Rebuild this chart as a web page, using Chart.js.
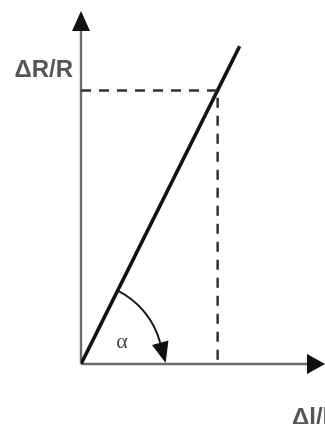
<!DOCTYPE html>
<html>
<head>
<meta charset="utf-8">
<script src="https://cdn.jsdelivr.net/npm/chart.js@4"></script>
<style>
  html, body { margin: 0; padding: 0; background: #fff; }
  #wrap { width: 325px; height: 424px; position: relative; }
</style>
</head>
<body>
<div id="wrap"><canvas id="c"></canvas></div>
<script>
// Relative strain (x) against relative resistance change (y)
const strainValues = [0, 6.5];
const resistanceValues = [0, 9.0];
// Reading point marked by the dashed guide lines
const readStrain = 5.6;
const readResistance = 7.75;
// Axis ranges
const strainRange = [0, 10];
const resistanceRange = [0, 10];
// Texts
const yAxisLabel = 'ΔR/R';
const xAxisLabel = 'Δl/l';
const angleLabel = 'α';

const linePoints = strainValues.map((x, i) => ({ x, y: resistanceValues[i] }));
const guidePoints = [
  { x: strainRange[0], y: readResistance },
  { x: readStrain, y: readResistance },
  { x: readStrain, y: resistanceRange[0] }
];

const AXIS_COLOR = '#6b6b6b';

function arrowHead(ctx, tipX, tipY, dirX, dirY, len, halfW, color) {
  const bx = tipX - dirX * len, by = tipY - dirY * len;
  const px = -dirY, py = dirX;
  ctx.beginPath();
  ctx.moveTo(tipX, tipY);
  ctx.lineTo(bx + px * halfW, by + py * halfW);
  ctx.lineTo(bx - px * halfW, by - py * halfW);
  ctx.closePath();
  ctx.fillStyle = color;
  ctx.fill();
}

// Axes with arrowheads, drawn under the data lines
const axesPlugin = {
  id: 'arrowAxes',
  beforeDatasetsDraw(chart) {
    const { ctx, chartArea, scales } = chart;
    const ox = scales.x.getPixelForValue(strainRange[0]);
    const oy = scales.y.getPixelForValue(resistanceRange[0]);
    ctx.save();
    ctx.strokeStyle = AXIS_COLOR;
    ctx.lineWidth = 2.4;
    ctx.beginPath();
    ctx.moveTo(ox, oy);
    ctx.lineTo(ox, chartArea.top + 12);
    ctx.moveTo(ox, oy);
    ctx.lineTo(chartArea.right - 12, oy);
    ctx.stroke();
    arrowHead(ctx, ox, chartArea.top, 0, -1, 20, 9, '#111');
    arrowHead(ctx, chartArea.right, oy, 1, 0, 18, 10, '#111');
    ctx.restore();
  }
};

// Angle arc, its arrow and the text labels
const labelsPlugin = {
  id: 'angleAndLabels',
  afterDatasetsDraw(chart) {
    const { ctx, scales } = chart;
    const ox = scales.x.getPixelForValue(strainRange[0]);
    const oy = scales.y.getPixelForValue(resistanceRange[0]);
    const ex = scales.x.getPixelForValue(strainValues[1]);
    const ey = scales.y.getPixelForValue(resistanceValues[1]);
    const a0 = Math.atan2(ey - oy, ex - ox);
    const a1 = -15 * Math.PI / 180;
    const r = 82;
    ctx.save();
    ctx.strokeStyle = '#1a1a1a';
    ctx.lineWidth = 2;
    ctx.beginPath();
    ctx.arc(ox, oy, r, a0, a1, false);
    ctx.stroke();
    const endX = ox + r * Math.cos(a1), endY = oy + r * Math.sin(a1);
    // tangent direction at the arc end (clockwise on screen)
    const tx = -Math.sin(a1), ty = Math.cos(a1);
    const len = 21;
    arrowHead(ctx, endX + tx * len, endY + ty * len, tx, ty, len, 8.5, '#111');

    // angle symbol
    ctx.fillStyle = '#444';
    ctx.font = '22px "Liberation Serif", "DejaVu Serif", serif';
    ctx.textAlign = 'center';
    ctx.textBaseline = 'middle';
    ctx.fillText(angleLabel, ox + 41, oy - 22);

    // axis labels
    ctx.fillStyle = '#555';
    ctx.font = 'bold 24px "Liberation Sans", Arial, sans-serif';
    ctx.textBaseline = 'alphabetic';
    ctx.textAlign = 'right';
    ctx.fillText(yAxisLabel, ox - 8, 77);
    ctx.textAlign = 'left';
    ctx.fillText(xAxisLabel, 292, oy + 61);
    ctx.restore();
  }
};

new Chart(document.getElementById('c'), {
  type: 'scatter',
  data: {
    datasets: [
      {
        data: guidePoints,
        showLine: true,
        borderColor: '#333',
        borderWidth: 2.5,
        borderDash: [10, 8],
        pointRadius: 0,
        fill: false,
        tension: 0
      },
      {
        data: linePoints,
        showLine: true,
        borderColor: '#111',
        borderWidth: 3.6,
        pointRadius: 0,
        fill: false,
        tension: 0
      }
    ]
  },
  options: {
    responsive: true,
    maintainAspectRatio: false,
    animation: false,
    events: [],
    layout: { padding: { left: 81, right: 0, top: 11, bottom: 60 } },
    plugins: { legend: { display: false }, tooltip: { enabled: false } },
    scales: {
      x: { type: 'linear', display: false, min: strainRange[0], max: strainRange[1] },
      y: { type: 'linear', display: false, min: resistanceRange[0], max: resistanceRange[1] }
    }
  },
  plugins: [axesPlugin, labelsPlugin]
});
</script>
</body>
</html>
